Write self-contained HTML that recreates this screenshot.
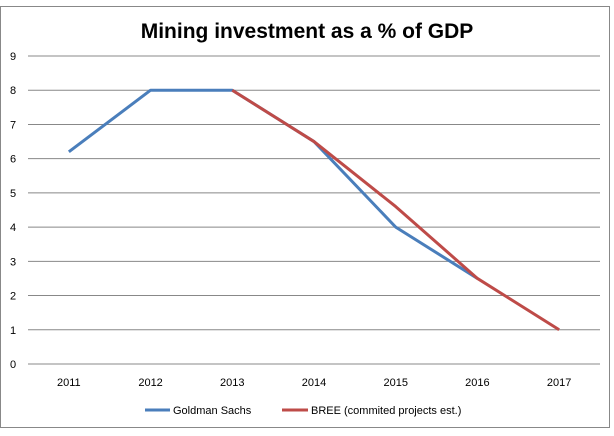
<!DOCTYPE html>
<html><head><meta charset="utf-8"><style>
body{margin:0;background:#fff;font-family:"Liberation Sans",sans-serif}
</style></head><body>
<svg width="614" height="431" xmlns="http://www.w3.org/2000/svg">
<rect x="0.5" y="6.5" width="609" height="421" fill="#fff" stroke="#888"/>
<text x="307" y="38" text-anchor="middle" font-size="21" font-weight="bold" fill="#000">Mining investment as a % of GDP</text>
<g id="grid"></g><g id="series"></g>
<g>
<line x1="145" y1="410" x2="170" y2="410" stroke="#4a7ebb" stroke-width="3"/>
<text x="173" y="414" font-size="11">Goldman Sachs</text>
<line x1="282" y1="410" x2="308" y2="410" stroke="#be4b48" stroke-width="3"/>
<text x="311" y="414" font-size="11">BREE (commited projects est.)</text>
</g>
</svg>
<script>
const categories=["2011","2012","2013","2014","2015","2016","2017"];
const yTicks=[0,1,2,3,4,5,6,7,8,9];
const goldman=[6.2,8,8,6.5,4,2.5,null];
const bree=[null,null,8,6.5,4.6,2.5,1];
const L=28,R=600,T=56,B=364;
const step=(R-L)/categories.length;
const x=i=>L+step*(i+0.5);
const y=v=>B-(v/9)*(B-T);
const NS="http://www.w3.org/2000/svg";
const g=document.getElementById('grid'),s=document.getElementById('series');
yTicks.forEach(v=>{
 const l=document.createElementNS(NS,'line');
 
 
 l.setAttribute('x1',L);l.setAttribute('x2',R);l.setAttribute('y1',y(v));l.setAttribute('y2',y(v));
 l.setAttribute('stroke','#888');g.appendChild(l);
 const t=document.createElementNS(NS,'text');
 
 
 t.setAttribute('x',13);t.setAttribute('y',y(v)+4);t.setAttribute('font-size','11');t.setAttribute('text-anchor','middle');
 t.textContent=v;g.appendChild(t);
});
categories.forEach((c,i)=>{
 const t=document.createElementNS(NS,'text');
 
 
 t.setAttribute('x',x(i));t.setAttribute('y',386);t.setAttribute('font-size','11');t.setAttribute('text-anchor','middle');
 t.textContent=c;g.appendChild(t);
});
function draw(arr,color,name){
 const pts=[];arr.forEach((v,i)=>{if(v!=null)pts.push(x(i)+','+y(v));});
 const p=document.createElementNS(NS,'polyline');
 
 
 p.setAttribute('points',pts.join(' '));p.setAttribute('fill','none');
 p.setAttribute('stroke',color);p.setAttribute('stroke-width','3');p.setAttribute('stroke-linejoin','round');
 s.appendChild(p);
}
draw(goldman,'#4a7ebb','goldman-line');
draw(bree,'#be4b48','bree-line');
</script>
</body></html>
